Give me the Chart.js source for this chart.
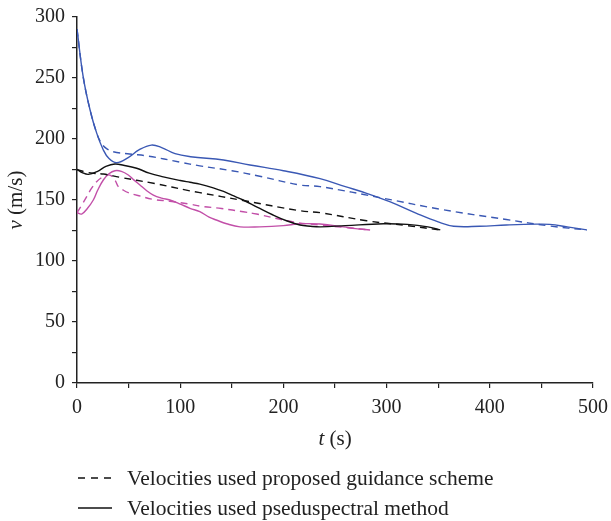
<!DOCTYPE html>
<html>
<head>
<meta charset="utf-8">
<script src="https://cdn.jsdelivr.net/npm/chart.js@4.4.1/dist/chart.umd.min.js"></script>
<style>
  html, body { margin: 0; padding: 0; background: #fff; }
  #wrap { position: relative; width: 611px; height: 521px; }
  #legend { position: absolute; left: 78px; top: 463px; font-family: "Liberation Serif", "DejaVu Serif", serif; font-size: 21.5px; color: #222; }
  #legend .row { display: flex; align-items: center; height: 30px; }
  #legend svg { margin-right: 15px; }
</style>
</head>
<body>
<div id="wrap">
  <canvas id="velocity-chart" width="611" height="521"></canvas>
  <div id="legend"></div>
</div>
<script>
// series data (t in s, v in m/s)
var blueSolidT = [0, 6, 12.6, 19, 25.5, 31, 38.5, 50, 60, 72, 82, 95, 110, 142, 167.6, 200, 235.5, 260, 280.7, 303, 329, 350, 365, 390, 416, 445, 458, 475, 494];
var blueSolidV = [290, 251, 224, 205, 191, 184, 180.6, 185, 191, 195, 193, 188, 185.5, 182.8, 178.7, 174, 167.5, 161, 155.5, 148.6, 139, 132, 128.5, 128.5, 129.5, 130.2, 130, 128, 125.5];

var blueDashT = [0, 6, 12.6, 19, 23, 28, 35, 51, 69, 100, 119, 150, 177, 216, 235.5, 297, 352, 416, 458, 494];
var blueDashV = [290, 251, 224, 205, 197.5, 192.5, 189.6, 187.7, 186, 181, 178, 174, 169.5, 162.3, 161, 151.4, 142.4, 134, 128.7, 125.4];

var blackSolidT = [0, 5, 11, 20, 28, 36.8, 45, 57.8, 70, 83.6, 100, 109.5, 119, 132, 142, 150, 161, 175, 190, 203, 216, 226, 236, 260, 297, 320, 340, 352];
var blackSolidV = [175, 172.5, 171, 173.5, 177.5, 179.5, 178.5, 176, 172, 169, 166, 164.5, 163, 160, 157, 154, 150, 144, 137.7, 133, 129.5, 128.5, 128, 129, 130.5, 130, 128, 125.5];

var blackDashT = [0, 8, 15.8, 25.5, 41.7, 74, 109.5, 119, 161, 216, 235.5, 280.7, 320, 352];
var blackDashV = [175, 173, 171.9, 171.3, 168.6, 163.7, 157.5, 156, 149.6, 141.2, 139.6, 133, 129, 125.4];

var magentaSolidT = [0, 4.5, 10, 15.8, 20, 25.5, 31, 36.8, 43, 49.7, 55, 61, 67, 74, 82, 90, 100, 109.5, 119, 128, 135, 145, 158, 177, 200, 216, 235.5, 258, 270, 284];
var magentaSolidV = [139.6, 138.5, 143, 150, 158, 166.4, 171.5, 174, 173.5, 170.5, 166.5, 162.3, 158, 154, 151.5, 150, 146.7, 143.2, 140.4, 136, 133.6, 130.5, 128, 128, 129, 130.5, 130.3, 128, 126.5, 125.4];

var magentaDashT = [0, 4, 9.4, 14, 19, 24, 28.8, 33, 37, 40, 45, 49.7, 60, 74, 90, 110, 119, 140, 161, 174, 209.6, 235.5, 260, 284];
var magentaDashV = [139.6, 145, 152.7, 159.5, 165, 168.5, 170.5, 170, 166, 161, 158, 156, 153.5, 150.5, 149, 146.5, 145, 143, 140.4, 138.5, 132, 129.5, 127.5, 125.4];

var legendLabels = ["Velocities used proposed guidance scheme", "Velocities used pseduspectral method"];
var xTicks = [0, 100, 200, 300, 400, 500];
var yTicks = [0, 50, 100, 150, 200, 250, 300];

var BLUE = "#3a58b4";
var MAGENTA = "#c24fa8";
var BLACK = "#111";
var DASH = [7, 5];
var FONT = "'Liberation Serif', 'DejaVu Serif', serif";

function pts(t, v) {
    return t.map(function (x, i) { return { x: x, y: v[i] }; });
}

function line(t, v, color, dashed) {
    return {
        data: pts(t, v),
        borderColor: color,
        borderWidth: 1.4,
        borderDash: dashed ? DASH : [],
        pointRadius: 0,
        showLine: true,
        fill: false,
        tension: 0.4,
    };
}

// axis titles with italic variable
function drawMixed(ctx, parts, cx, cy) {
    var widths = parts.map(function (p) {
        ctx.font = (p[1] ? "italic " : "") + "21px " + FONT;
        return ctx.measureText(p[0]).width;
    });
    var total = widths.reduce(function (a, b) { return a + b; }, 0);
    var x = cx - total / 2;
    parts.forEach(function (p, i) {
        ctx.font = (p[1] ? "italic " : "") + "21px " + FONT;
        ctx.fillText(p[0], x, cy);
        x += widths[i];
    });
}

const axisTitles = {
    id: "axisTitles",
    afterDraw(chart) {
        const ctx = chart.ctx, a = chart.chartArea;
        ctx.save();
        ctx.fillStyle = "#222";
        ctx.textBaseline = "middle";
        ctx.textAlign = "left";
        drawMixed(ctx, [["t", true], [" (s)", false]], (a.left + a.right) / 2, 439);
        ctx.translate(16, (a.top + a.bottom) / 2);
        ctx.rotate(-Math.PI / 2);
        drawMixed(ctx, [["v", true], [" (m/s)", false]], 0, 0);
        ctx.restore();
    },
};

new Chart(document.getElementById("velocity-chart"), {
    type: "scatter",
    data: {
        datasets: [
            line(blueDashT, blueDashV, BLUE, true),
            line(blueSolidT, blueSolidV, BLUE, false),
            line(blackDashT, blackDashV, BLACK, true),
            line(blackSolidT, blackSolidV, BLACK, false),
            line(magentaDashT, magentaDashV, MAGENTA, true),
            line(magentaSolidT, magentaSolidV, MAGENTA, false),
        ],
    },
    options: {
        responsive: false,
        animation: false,
        layout: { padding: { top: 17, right: 18, bottom: 0, left: 0 } },
        plugins: { legend: { display: false }, tooltip: { enabled: false } },
        scales: {
            x: {
                type: "linear",
                min: 0,
                max: 500,
                afterFit: function (s) { s.height = 138; s.paddingLeft = 0; s.paddingRight = 0; },
                afterBuildTicks: function (s) {
                    var t = [];
                    for (var i = 0; i <= 500; i += 50) t.push({ value: i });
                    s.ticks = t;
                },
                ticks: {
                    color: "#222",
                    font: { family: FONT, size: 20 },
                    padding: 8,
                    maxRotation: 0,
                    autoSkip: false,
                    callback: function (v) { return xTicks.indexOf(v) >= 0 ? String(v) : ""; },
                },
                grid: { drawOnChartArea: false, drawTicks: true, tickLength: 5, color: "#222", lineWidth: 1.2 },
                border: { color: "#222", width: 1.5 },
            },
            y: {
                min: 0,
                max: 300,
                afterFit: function (s) { s.width = 77; s.paddingTop = 0; s.paddingBottom = 0; },
                afterBuildTicks: function (s) {
                    var t = [];
                    for (var i = 0; i <= 300; i += 25) t.push({ value: i });
                    s.ticks = t;
                },
                ticks: {
                    color: "#222",
                    font: { family: FONT, size: 20 },
                    padding: 7,
                    autoSkip: false,
                    callback: function (v) { return yTicks.indexOf(v) >= 0 ? String(v) : ""; },
                },
                grid: { drawOnChartArea: false, drawTicks: true, tickLength: 5, color: "#222", lineWidth: 1.2 },
                border: { color: "#222", width: 1.5 },
            },
        },
    },
    plugins: [axisTitles],
});

// legend (line style only)
var legend = document.getElementById("legend");
legendLabels.forEach(function (label, i) {
    var row = document.createElement("div");
    row.className = "row";
    row.innerHTML = '<svg width="34" height="6"><line x1="0" y1="3" x2="34" y2="3" stroke="#111" stroke-width="1.4"' +
        (i === 0 ? ' stroke-dasharray="7,6"' : "") + '/></svg><span></span>';
    row.querySelector("span").textContent = label;
    legend.appendChild(row);
});
</script>
</body>
</html>
